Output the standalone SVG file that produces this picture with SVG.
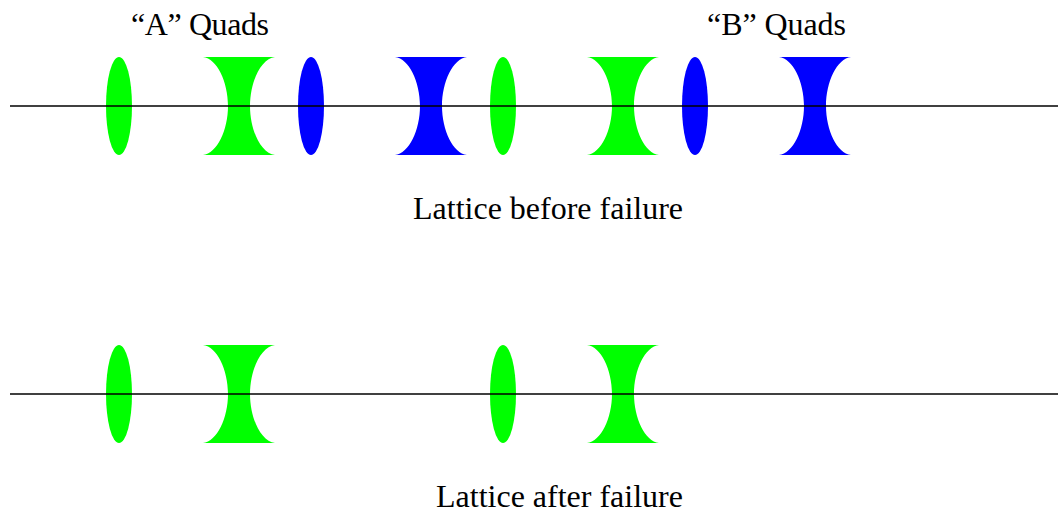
<svg xmlns="http://www.w3.org/2000/svg" width="1058" height="509" viewBox="0 0 1058 509">
<style>
text{font-family:"Liberation Serif",serif;font-size:32px;fill:#000}
.g{fill:#00ff00}.b{fill:#0000ff}
line{stroke:#000;stroke-width:1.5}
</style>
<defs>
<ellipse id="e" cx="0" cy="0" rx="13" ry="49"/>
<path id="c" d="M-36-49H36C22-47.5 11-24 11 0C11 24 22 47.5 36 49H-36C-22 47.5-11 24-11 0C-11-24-22-47.5-36-49Z"/>
</defs>
<rect width="1058" height="509" fill="#fff"/>
<g id="n1"><use href="#e" x="119" y="106" class="g"/></g>
<g id="n2"><use href="#c" x="239" y="106" class="g"/></g>
<g id="n3"><use href="#e" x="311" y="106" class="b"/></g>
<g id="n4"><use href="#c" x="431" y="106" class="b"/></g>
<g id="n5"><use href="#e" x="503" y="106" class="g"/></g>
<g id="n6"><use href="#c" x="623" y="106" class="g"/></g>
<g id="n7"><use href="#e" x="695" y="106" class="b"/></g>
<g id="n8"><use href="#c" x="815" y="106" class="b"/></g>
<g id="n9"><use href="#e" x="119" y="394" class="g"/></g>
<g id="n10"><use href="#c" x="239" y="394" class="g"/></g>
<g id="n11"><use href="#e" x="503" y="394" class="g"/></g>
<g id="n12"><use href="#c" x="623" y="394" class="g"/></g>
<g id="connectors">
<line x1="10" y1="106" x2="1058" y2="106"/>
<line x1="10" y1="394" x2="1058" y2="394"/>
</g>
<text x="131" y="35" textLength="138">“A” Quads</text>
<text x="707" y="35" textLength="139">“B” Quads</text>
<text x="413" y="219">Lattice before failure</text>
<text x="436" y="507">Lattice after failure</text>
</svg>
